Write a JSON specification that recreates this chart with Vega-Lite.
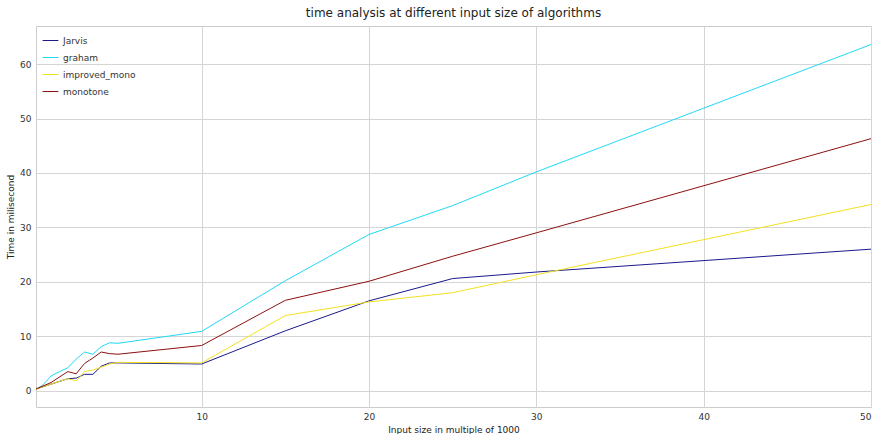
{
  "$schema": "https://vega.github.io/schema/vega-lite/v6.json",
  "width": 835,
  "height": 381,
  "padding": {"left": 6, "top": 7, "right": 0, "bottom": 0},
  "title": {"text": "time analysis at different input size of algorithms", "fontSize": 12, "fontWeight": "normal", "font": "DejaVu Sans", "color": "#222", "offset": 6},
  "data": {"values": [
    {"n":0.1,"a":"Jarvis","t":0.3},{"n":1,"a":"Jarvis","t":1.2},{"n":2,"a":"Jarvis","t":2.2},{"n":2.5,"a":"Jarvis","t":2.3},{"n":3,"a":"Jarvis","t":3.0},{"n":3.5,"a":"Jarvis","t":3.0},{"n":4,"a":"Jarvis","t":4.5},{"n":4.5,"a":"Jarvis","t":5.1},{"n":5,"a":"Jarvis","t":5.1},{"n":10,"a":"Jarvis","t":4.9},{"n":15,"a":"Jarvis","t":11.0},{"n":20,"a":"Jarvis","t":16.5},{"n":25,"a":"Jarvis","t":20.6},{"n":30,"a":"Jarvis","t":21.8},{"n":50,"a":"Jarvis","t":26.0},
    {"n":0.1,"a":"graham","t":0.3},{"n":0.5,"a":"graham","t":1.0},{"n":1,"a":"graham","t":2.7},{"n":1.5,"a":"graham","t":3.5},{"n":2,"a":"graham","t":4.2},{"n":2.5,"a":"graham","t":5.8},{"n":3,"a":"graham","t":7.1},{"n":3.5,"a":"graham","t":6.7},{"n":4,"a":"graham","t":8.1},{"n":4.5,"a":"graham","t":8.8},{"n":5,"a":"graham","t":8.7},{"n":10,"a":"graham","t":10.9},{"n":15,"a":"graham","t":20.2},{"n":20,"a":"graham","t":28.7},{"n":25,"a":"graham","t":34.0},{"n":30,"a":"graham","t":40.2},{"n":50,"a":"graham","t":63.6},
    {"n":0.1,"a":"improved_mono","t":0.3},{"n":1,"a":"improved_mono","t":1.2},{"n":2,"a":"improved_mono","t":2.2},{"n":2.5,"a":"improved_mono","t":1.8},{"n":3,"a":"improved_mono","t":3.5},{"n":3.5,"a":"improved_mono","t":3.8},{"n":4,"a":"improved_mono","t":4.3},{"n":4.5,"a":"improved_mono","t":4.9},{"n":5,"a":"improved_mono","t":5.2},{"n":10,"a":"improved_mono","t":5.1},{"n":15,"a":"improved_mono","t":13.8},{"n":20,"a":"improved_mono","t":16.3},{"n":25,"a":"improved_mono","t":18.0},{"n":30,"a":"improved_mono","t":21.3},{"n":50,"a":"improved_mono","t":34.2},
    {"n":0.1,"a":"monotone","t":0.3},{"n":1,"a":"monotone","t":1.5},{"n":2,"a":"monotone","t":3.5},{"n":2.5,"a":"monotone","t":3.1},{"n":3,"a":"monotone","t":5.0},{"n":3.5,"a":"monotone","t":6.0},{"n":4,"a":"monotone","t":7.1},{"n":4.5,"a":"monotone","t":6.8},{"n":5,"a":"monotone","t":6.7},{"n":10,"a":"monotone","t":8.3},{"n":15,"a":"monotone","t":16.6},{"n":20,"a":"monotone","t":20.1},{"n":25,"a":"monotone","t":24.7},{"n":30,"a":"monotone","t":29.0},{"n":50,"a":"monotone","t":46.3}
  ]},
  "mark": {"type": "line", "strokeWidth": 1},
  "encoding": {
    "x": {"field": "n", "type": "quantitative", "title": "Input size in multiple of 1000",
      "scale": {"domain": [0.1, 50], "nice": false, "zero": false},
      "axis": {"values": [10, 20, 30, 40, 50]}},
    "y": {"field": "t", "type": "quantitative", "title": "Time in milisecond",
      "scale": {"domain": [-3, 67], "nice": false, "zero": false},
      "axis": {"values": [0, 10, 20, 30, 40, 50, 60]}},
    "color": {"field": "a", "type": "nominal", "title": null,
      "scale": {"domain": ["Jarvis", "graham", "improved_mono", "monotone"], "range": ["#1a1a8c", "#22d8f5", "#f5e020", "#8b1010"]},
      "legend": {"orient": "top-left", "symbolType": "stroke", "symbolSize": 250, "symbolStrokeWidth": 1, "labelFontSize": 9, "offset": 6, "rowPadding": 3}}
  },
  "config": {
    "font": "DejaVu Sans",
    "view": {"stroke": "#cccccc"},
    "axis": {"grid": true, "gridColor": "#d5d5d5", "domain": false, "ticks": false, "labelFontSize": 9, "titleFontSize": 9, "titleFontWeight": "normal", "labelColor": "#333", "titleColor": "#222", "labelPadding": 5},
    "legend": {"labelColor": "#333", "labelFont": "DejaVu Sans"}
  }
}
